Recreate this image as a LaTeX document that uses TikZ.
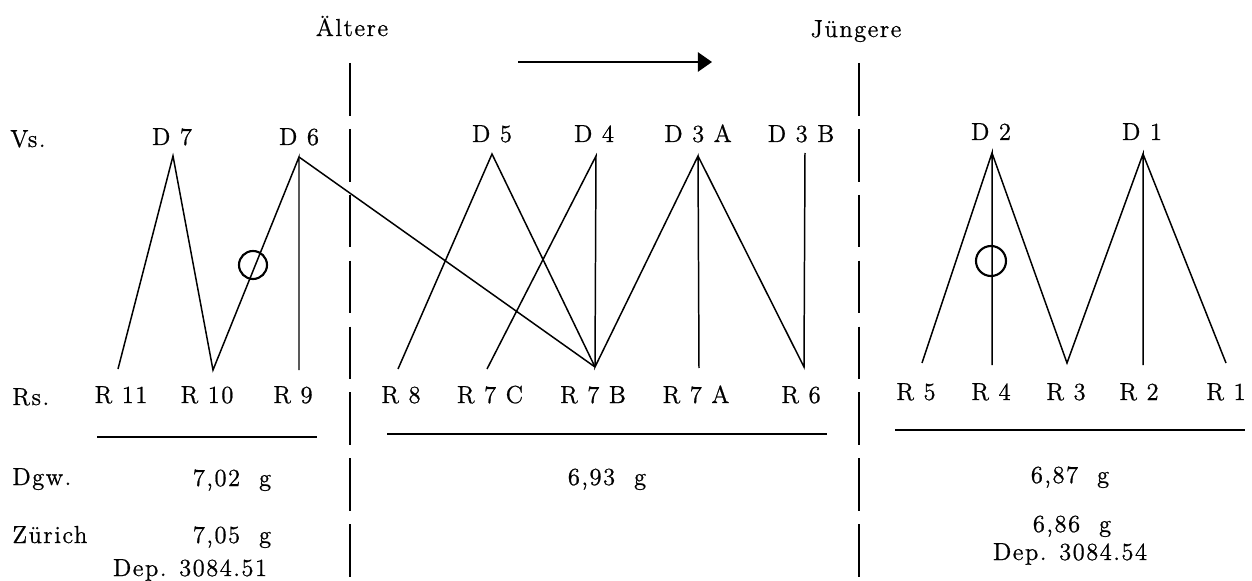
\documentclass[tikz,border=0pt]{standalone}
\usepackage{fontspec}
\setmainfont{lmroman12-regular.otf}[LetterSpace=6,FakeBold=0.8]
\usetikzlibrary{arrows.meta}
\begin{document}
\begin{tikzpicture}[x=0.02cm,y=-0.02cm,
  every node/.style={font=\fontsize{14}{16}\selectfont,inner sep=0pt},
  lbl/.style={anchor=base},
  lft/.style={anchor=base west},
  link/.style={line width=0.85pt},
  divider/.style={line width=1.1pt,dash pattern=on 30pt off 7.5pt},
  rulebar/.style={line width=0.85pt},
  marker/.style={line width=1.2pt}]
\useasboundingbox (0,0) rectangle (1252,581);

% headings and direction arrow
\node[lbl] (older) at (352,36) {Ältere};
\node[lbl] (younger) at (856,37) {Jüngere};
\coordinate (arrA) at (518,62);
\coordinate (arrB) at (712,62);
\draw[line width=0.8pt,-{Triangle[length=8pt,width=11pt]}] (arrA) -- (arrB);

% group separators
\coordinate (sepAtop) at (350,63);
\coordinate (sepAbot) at (350,581);
\coordinate (sepBtop) at (859,63);
\coordinate (sepBbot) at (859,581);
\draw[divider] (sepAtop) -- (sepAbot);
\draw[divider] (sepBtop) -- (sepBbot);

% obverse dies
\node[lft] (vs) at (10,147) {Vs.};
\node[lbl] (tD7) at (172,145) {D 7};
\node[lbl] (tD6) at (299,145) {D 6};
\node[lbl] (tD5) at (492,142) {D 5};
\node[lbl] (tD4) at (594,142) {D 4};
\node[lbl] (tD3A) at (698,142) {D 3 A};
\node[lbl] (tD3B) at (801,142) {D 3 B};
\node[lbl] (tD2) at (991,140) {D 2};
\node[lbl] (tD1) at (1142,140) {D 1};

\coordinate (d7) at (173,156);
\coordinate (d6) at (299,157);
\coordinate (d5) at (492,154);
\coordinate (d4) at (596,156);
\coordinate (d3a) at (698,156);
\coordinate (d3b) at (805,153);
\coordinate (d2) at (992,153);
\coordinate (d1) at (1143,154);

% reverse dies
\coordinate (r11) at (118,369);
\coordinate (r10) at (213,370);
\coordinate (r9) at (299,370);
\coordinate (r8) at (398,369);
\coordinate (r7c) at (487,369);
\coordinate (r7b) at (595,367);
\coordinate (r7a) at (699,368);
\coordinate (r6) at (804,367);
\coordinate (r5) at (922,363);
\coordinate (r4) at (992,365);
\coordinate (r3) at (1067,363);
\coordinate (r2) at (1143,365);
\coordinate (r1) at (1226,363);

\node[lft] (rs) at (12,405) {Rs.};
\node[lbl] (tR11) at (121,403) {R 11};
\node[lbl] (tR10) at (207,403) {R 10};
\node[lbl] (tR9) at (293,403) {R 9};
\node[lbl] (tR8) at (401,403) {R 8};
\node[lbl] (tR7C) at (490,403) {R 7 C};
\node[lbl] (tR7B) at (593,403) {R 7 B};
\node[lbl] (tR7A) at (696,403) {R 7 A};
\node[lbl] (tR6) at (801,403) {R 6};
\node[lbl] (tR5) at (916,400) {R 5};
\node[lbl] (tR4) at (991,400) {R 4};
\node[lbl] (tR3) at (1066,400) {R 3};
\node[lbl] (tR2) at (1139,400) {R 2};
\node[lbl] (tR1) at (1226,400) {R 1};

% die links
\draw[link] (r11) -- (d7) -- (r10) -- (d6) -- (r9);
\draw[link] (d6) -- (r7b);
\draw[link] (r8) -- (d5) -- (r7b);
\draw[link] (r7c) -- (d4) -- (r7b) -- (d3a) -- (r7a);
\draw[link] (d3a) -- (r6) -- (d3b);
\draw[link] (r5) -- (d2) -- (r4);
\draw[link] (d2) -- (r3) -- (d1) -- (r2);
\draw[link] (d1) -- (r1);

% marked specimens
\coordinate (ringA) at (253,265);
\coordinate (ringB) at (991,261);
\draw[marker] (ringA) circle[radius=14];
\draw[marker] (ringB) circle[radius=15];

% rules under the groups
\coordinate (ruleAl) at (97,437);
\coordinate (ruleAr) at (317,437);
\coordinate (ruleBl) at (387,434);
\coordinate (ruleBr) at (827,434);
\coordinate (ruleCl) at (895,430);
\coordinate (ruleCr) at (1245,430);
\draw[rulebar] (ruleAl) -- (ruleAr);
\draw[rulebar] (ruleBl) -- (ruleBr);
\draw[rulebar] (ruleCl) -- (ruleCr);

% weights
\node[lft] (dgw) at (12,485) {Dgw.};
\node[lbl] (wA) at (232,486) {7,02\ \ g};
\node[lbl] (wB) at (607,485) {6,93\ \ g};
\node[lbl] (wC) at (1070,483) {6,87\ \ g};
\node[lft] (zh) at (12,543) {Zürich};
\node[lbl] (zA) at (232,543) {7,05\ \ g};
\node[lbl] (depA) at (190,576) {Dep. 3084.51};
\node[lbl] (zC) at (1072,532) {6,86\ \ g};
\node[lbl] (depC) at (1070,560) {Dep. 3084.54};
\end{tikzpicture}
\end{document}
